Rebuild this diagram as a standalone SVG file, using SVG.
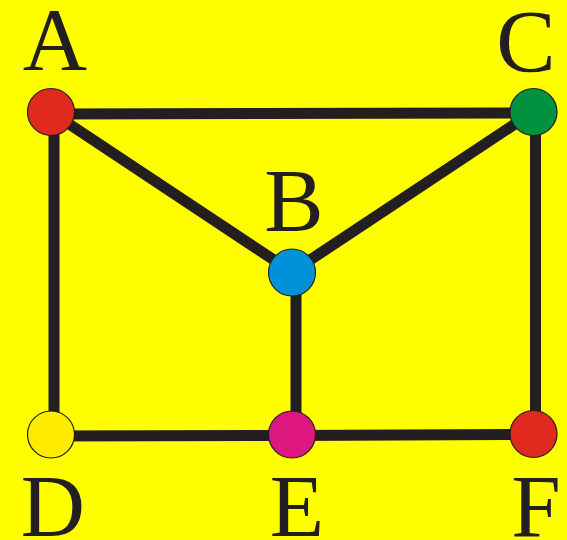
<svg xmlns="http://www.w3.org/2000/svg" width="567" height="540" viewBox="0 0 567 540">
<style>
.e{stroke:#231f20;stroke-width:11;stroke-linecap:butt;fill:none}
.n{stroke:#231f20;stroke-width:1.2}
.l{font-family:"Liberation Serif","Times New Roman",serif;font-size:89px;fill:#231f20;text-anchor:middle}
</style>
<rect width="567" height="540" fill="#ffff00"/>
<g id="connectors">
<line class="e" x1="51" y1="114" x2="533" y2="113"/>
<line class="e" x1="54" y1="112" x2="54" y2="435"/>
<line class="e" x1="51" y1="436" x2="292" y2="435.5"/>
<line class="e" x1="292" y1="435.5" x2="534" y2="434.5"/>
<line class="e" x1="535.5" y1="112" x2="535.5" y2="434"/>
<line class="e" x1="296" y1="272" x2="296" y2="435"/>
<line class="e" x1="51" y1="112" x2="292" y2="272"/>
<line class="e" x1="533" y1="112" x2="292" y2="272"/>
</g>
<g id="A"><circle class="n" cx="51" cy="112" r="23.5" fill="#e0291f"/><text class="l" x="55" y="69">A</text></g>
<g id="C"><circle class="n" cx="533.5" cy="112" r="23.5" fill="#00923f"/><text class="l" x="526" y="71">C</text></g>
<g id="B"><circle class="n" cx="292" cy="272.5" r="23.5" fill="#0091d9"/><text class="l" x="294" y="230">B</text></g>
<g id="D"><circle class="n" cx="51" cy="434.5" r="23.5" fill="#ffeb00"/><text class="l" x="53" y="536">D</text></g>
<g id="E"><circle class="n" cx="292" cy="434.5" r="23.5" fill="#dd1680"/><text class="l" x="297" y="536">E</text></g>
<g id="F"><circle class="n" cx="533.5" cy="434" r="23.5" fill="#e0291f"/><text class="l" x="536" y="536">F</text></g>
</svg>
